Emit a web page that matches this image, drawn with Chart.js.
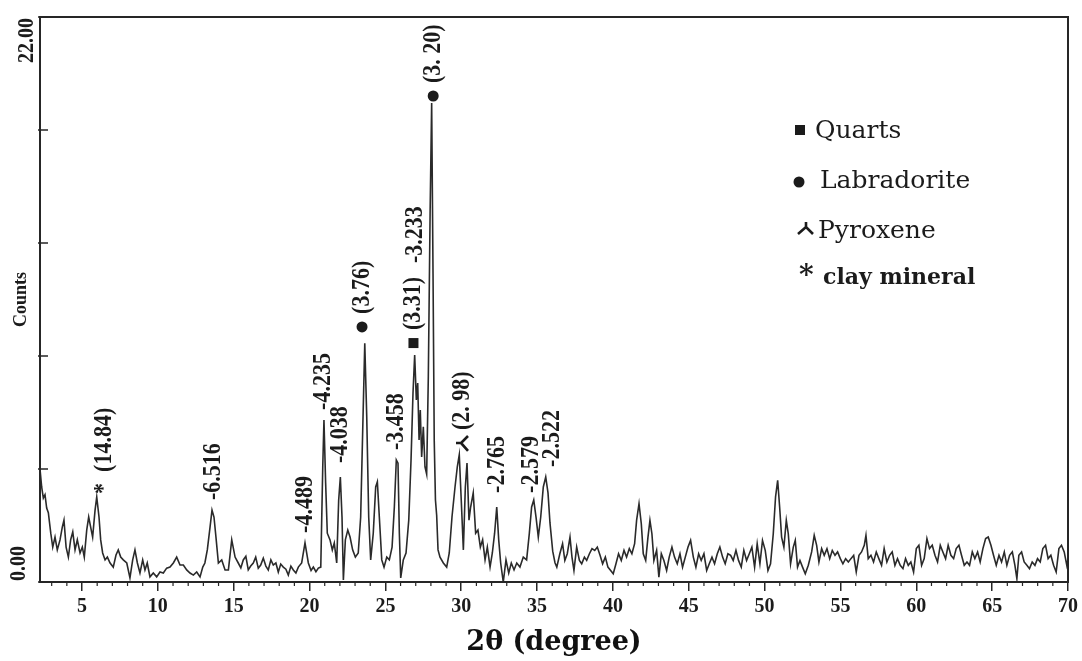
<!DOCTYPE html>
<html>
<head>
<meta charset="utf-8">
<title>XRD pattern</title>
<script src="https://cdn.jsdelivr.net/npm/chart.js@4.4.1/dist/chart.umd.min.js"></script>
<style>
  html, body { margin: 0; padding: 0; background: #fff; }
  #wrap { width: 1082px; height: 661px; position: relative; }
</style>
</head>
<body>
<div id="wrap"><canvas id="xrdChart"></canvas></div>
<script>
// --- data: 2θ (degree) and counts ---
const twoTheta = [
  2.23, 2.34, 2.45, 2.56, 2.67, 2.78, 2.94, 3.07, 3.22, 3.37,
  3.55, 3.70, 3.81, 3.95, 4.10, 4.25, 4.39, 4.54, 4.69, 4.87,
  5.02, 5.15, 5.31, 5.44, 5.57, 5.70, 5.86, 5.97, 6.12, 6.23,
  6.36, 6.52, 6.67, 6.85, 7.06, 7.24, 7.39, 7.55, 7.72, 7.95,
  8.16, 8.34, 8.49, 8.65, 8.82, 9.00, 9.15, 9.30, 9.48, 9.70,
  9.92, 10.14, 10.36, 10.58, 10.80, 11.02, 11.24, 11.46, 11.68, 11.90,
  12.12, 12.34, 12.56, 12.78, 12.96, 13.10, 13.26, 13.44, 13.57, 13.70,
  13.83, 13.99, 14.21, 14.43, 14.65, 14.87, 15.09, 15.30, 15.47, 15.63,
  15.80, 15.96, 16.12, 16.29, 16.45, 16.62, 16.78, 16.95, 17.12, 17.28,
  17.45, 17.61, 17.78, 17.94, 18.10, 18.27, 18.44, 18.60, 18.77, 18.93,
  19.10, 19.26, 19.48, 19.70, 19.92, 20.10, 20.25, 20.42, 20.58, 20.74,
  20.87, 20.95, 21.06, 21.17, 21.35, 21.50, 21.63, 21.79, 21.92, 22.03,
  22.14, 22.23, 22.36, 22.52, 22.67, 22.84, 23.02, 23.21, 23.37, 23.50,
  23.64, 23.77, 23.90, 24.03, 24.20, 24.36, 24.47, 24.60, 24.76, 24.91,
  25.09, 25.26, 25.44, 25.59, 25.72, 25.83, 25.92, 26.01, 26.18, 26.36,
  26.54, 26.69, 26.82, 26.93, 27.04, 27.13, 27.22, 27.30, 27.39, 27.50,
  27.61, 27.72, 27.83, 27.95, 28.05, 28.14, 28.22, 28.30, 28.38, 28.47,
  28.60, 28.82, 29.04, 29.21, 29.39, 29.59, 29.74, 29.87, 30.00, 30.14,
  30.27, 30.38, 30.51, 30.62, 30.79, 30.95, 31.10, 31.26, 31.41, 31.57,
  31.72, 31.90, 32.05, 32.20, 32.34, 32.47, 32.60, 32.77, 32.95, 33.13,
  33.30, 33.48, 33.66, 33.87, 34.09, 34.31, 34.49, 34.64, 34.78, 34.93,
  35.08, 35.24, 35.41, 35.57, 35.72, 35.85, 36.03, 36.18, 36.30, 36.50,
  36.68, 36.83, 36.99, 37.17, 37.30, 37.43, 37.61, 37.79, 37.94, 38.12,
  38.27, 38.45, 38.62, 38.80, 38.97, 39.15, 39.32, 39.50, 39.67, 39.85,
  40.02, 40.20, 40.37, 40.55, 40.73, 40.90, 41.08, 41.25, 41.43, 41.56,
  41.72, 41.87, 42.00, 42.16, 42.31, 42.44, 42.57, 42.70, 42.88, 43.03,
  43.19, 43.36, 43.54, 43.71, 43.89, 44.06, 44.24, 44.42, 44.59, 44.77,
  44.95, 45.12, 45.30, 45.47, 45.65, 45.82, 46.00, 46.18, 46.35, 46.53,
  46.70, 46.88, 47.05, 47.23, 47.40, 47.58, 47.76, 47.93, 48.11, 48.28,
  48.46, 48.63, 48.81, 48.99, 49.16, 49.34, 49.51, 49.69, 49.86, 50.04,
  50.22, 50.39, 50.57, 50.72, 50.86, 50.99, 51.12, 51.27, 51.43, 51.56,
  51.71, 51.89, 52.02, 52.17, 52.33, 52.50, 52.68, 52.88, 53.10, 53.27,
  53.43, 53.58, 53.76, 53.93, 54.11, 54.29, 54.46, 54.64, 54.81, 54.99,
  55.16, 55.34, 55.52, 55.69, 55.87, 56.04, 56.22, 56.39, 56.57, 56.68,
  56.83, 57.01, 57.18, 57.36, 57.53, 57.71, 57.88, 58.06, 58.24, 58.41,
  58.59, 58.76, 58.94, 59.12, 59.29, 59.47, 59.64, 59.82, 60.00, 60.17,
  60.35, 60.52, 60.70, 60.87, 61.05, 61.23, 61.40, 61.58, 61.75, 61.93,
  62.10, 62.28, 62.46, 62.63, 62.81, 62.98, 63.16, 63.34, 63.51, 63.69,
  63.86, 64.04, 64.21, 64.39, 64.57, 64.74, 64.92, 65.09, 65.27, 65.45,
  65.62, 65.80, 65.97, 66.15, 66.33, 66.50, 66.63, 66.76, 66.94, 67.11,
  67.29, 67.46, 67.64, 67.82, 67.99, 68.17, 68.34, 68.52, 68.69, 68.87,
  69.05, 69.22, 69.40, 69.57, 69.75, 69.92, 70.00
];

const counts = [
  4.40, 3.70, 3.27, 3.40, 2.88, 2.70, 1.90, 1.36, 1.75, 1.25,
  1.64, 2.14, 2.41, 1.36, 0.97, 1.64, 1.95, 1.25, 1.64, 1.13,
  1.36, 0.97, 2.02, 2.53, 2.14, 1.75, 2.80, 3.31, 2.53, 1.64,
  1.13, 0.86, 0.97, 0.74, 0.58, 1.05, 1.25, 0.97, 0.86, 0.74,
  0.16, 0.86, 1.25, 0.74, 0.35, 0.86, 0.47, 0.74, 0.20, 0.35,
  0.20, 0.39, 0.35, 0.54, 0.58, 0.74, 0.97, 0.66, 0.66, 0.47,
  0.35, 0.27, 0.39, 0.20, 0.58, 0.74, 1.25, 2.14, 2.80, 2.53,
  1.75, 0.74, 0.86, 0.47, 0.47, 1.64, 0.97, 0.74, 0.55, 0.86,
  1.00, 0.47, 0.62, 0.74, 0.97, 0.54, 0.66, 0.93, 0.62, 0.47,
  0.86, 0.66, 0.74, 0.39, 0.70, 0.58, 0.50, 0.27, 0.62, 0.47,
  0.35, 0.58, 0.74, 1.52, 0.74, 0.45, 0.58, 0.40, 0.54, 0.58,
  4.48, 6.31, 3.86, 1.90, 1.64, 1.25, 1.52, 0.74, 3.19, 4.09,
  2.53, 0.08, 1.64, 2.02, 1.75, 1.25, 0.97, 1.13, 2.53, 5.80,
  9.30, 6.43, 2.53, 0.86, 1.90, 3.70, 3.90, 2.53, 0.86, 0.58,
  0.97, 0.86, 1.36, 2.92, 4.75, 4.63, 1.90, 0.16, 0.86, 1.13,
  2.41, 4.75, 7.36, 8.84, 7.09, 7.75, 5.53, 6.70, 4.87, 6.04,
  4.48, 4.20, 8.00, 14.50, 18.65, 12.00, 5.50, 3.19, 2.60, 1.25,
  0.97, 0.74, 0.58, 1.13, 2.53, 3.70, 4.48, 4.95, 3.19, 1.25,
  3.70, 4.63, 2.41, 2.92, 3.47, 1.90, 2.02, 1.36, 1.64, 0.86,
  1.36, 0.58, 1.13, 1.90, 2.92, 1.64, 0.74, 0.00, 0.86, 0.35,
  0.74, 0.47, 0.74, 0.58, 0.97, 0.86, 1.90, 2.92, 3.19, 2.53,
  1.75, 2.53, 3.70, 4.09, 3.47, 2.30, 1.20, 0.75, 0.58, 1.10,
  1.49, 0.84, 1.10, 1.75, 0.97, 0.45, 1.36, 0.84, 0.71, 0.97,
  0.84, 1.10, 1.30, 1.23, 1.36, 1.04, 0.71, 0.97, 0.58, 0.45,
  0.32, 0.71, 1.10, 0.84, 1.23, 0.97, 1.30, 1.10, 1.49, 2.40,
  3.05, 2.27, 1.10, 0.84, 1.75, 2.40, 1.88, 0.84, 1.23, 0.19,
  1.10, 0.84, 0.45, 0.97, 1.36, 0.97, 0.71, 1.10, 0.58, 0.97,
  1.36, 1.62, 0.97, 0.58, 1.10, 0.84, 1.10, 0.45, 0.71, 0.97,
  0.71, 1.10, 1.36, 0.97, 0.71, 1.10, 1.04, 0.84, 1.23, 0.84,
  0.58, 1.23, 0.84, 1.10, 1.36, 0.58, 1.49, 0.71, 1.62, 1.23,
  0.45, 0.71, 1.88, 3.31, 3.96, 2.92, 1.75, 1.36, 2.40, 1.88,
  0.71, 1.36, 1.62, 0.58, 0.84, 0.58, 0.32, 0.65, 1.17, 1.82,
  1.43, 0.78, 1.30, 1.04, 1.30, 0.91, 1.23, 1.04, 1.17, 0.91,
  0.71, 0.91, 0.78, 0.91, 1.04, 0.39, 1.04, 1.17, 1.43, 1.82,
  0.91, 1.04, 0.78, 1.17, 0.91, 0.65, 1.30, 0.78, 1.04, 1.17,
  0.65, 0.91, 0.65, 0.52, 0.91, 0.65, 0.78, 0.39, 1.30, 1.43,
  0.65, 0.91, 1.69, 1.30, 1.43, 1.04, 0.78, 1.43, 1.17, 0.91,
  1.43, 1.04, 0.91, 1.30, 1.43, 1.04, 0.65, 0.78, 0.65, 1.17,
  0.91, 1.17, 0.78, 1.30, 1.69, 1.75, 1.43, 1.04, 0.65, 1.04,
  0.78, 1.17, 0.65, 1.04, 1.17, 0.65, 0.13, 1.04, 1.17, 0.78,
  0.65, 0.52, 0.78, 0.65, 0.91, 0.78, 1.30, 1.43, 0.91, 1.04,
  0.65, 0.39, 1.30, 1.43, 1.17, 0.65, 0.90
];

// axis ticks
const xTickValues = [5, 10, 15, 20, 25, 30, 35, 40, 45, 50, 55, 60, 65, 70];
const yTickValues = [0, 4.4, 8.8, 13.2, 17.6, 22];
const yTickLabels = ['0.00', '', '', '', '', '22.00'];

// peak annotations (d-spacing in Å), placed at 2θ / counts where the text starts
const peakTheta  = [6.45, 13.67, 19.70, 20.89, 22.05, 23.46, 25.70, 26.85, 27.00, 28.15, 30.05, 32.36, 34.60, 36.00];
const peakBase   = [3.43, 3.19, 1.91, 6.70, 4.63, 10.44, 5.14, 9.81, 12.42, 19.43, 5.92, 3.47, 3.47, 4.48];
const peakText   = ['*  (14.84)', '-6.516', '-4.489', '-4.235', '-4.038', '(3.76)', '-3.458',
                    '(3.31)', '-3.233', '(3. 20)', '(2. 98)', '-2.765', '-2.579', '-2.522'];
const peakMarker = ['', '', '', '', '', 'circle', '', 'square', '', 'circle', 'pyroxene', '', '', ''];

// mineral key
const phaseNames   = ['Quarts', 'Labradorite', 'Pyroxene', 'clay mineral'];
const phaseMarkers = ['square', 'circle', 'pyroxene', 'star'];

const INK = '#1b1b1b';

function drawMarker(ctx, type, cx, cy, turned) {
    ctx.save();
    ctx.translate(cx, cy);
    if (turned) ctx.rotate(-Math.PI / 2);
    ctx.fillStyle = INK;
    ctx.strokeStyle = INK;
    if (type === 'square') {
        ctx.fillRect(-5, -5, 10, 10);
    } else if (type === 'circle') {
        ctx.beginPath();
        ctx.arc(0, 0, 5.5, 0, Math.PI * 2);
        ctx.fill();
    } else if (type === 'pyroxene') {
        ctx.lineWidth = 2.6;
        ctx.beginPath();
        ctx.moveTo(0, -6); ctx.lineTo(0, 0);
        ctx.moveTo(-8, 6); ctx.lineTo(0, -1); ctx.lineTo(7, 6);
        ctx.stroke();
    }
    ctx.restore();
}

// frame, minor ticks, rotated tick labels, peak labels and key
const xrdDecor = {
    id: 'xrdDecor',
    afterDraw(chart) {
        const { ctx, chartArea: a, scales: { x, y } } = chart;
        ctx.save();

        // box round the plot
        ctx.strokeStyle = '#262626';
        ctx.lineWidth = 2;
        ctx.strokeRect(a.left, a.top, a.right - a.left, a.bottom - a.top);

        // minor ticks every degree
        ctx.lineWidth = 1.2;
        ctx.beginPath();
        for (let v = 3; v < 70; v++) {
            if (v % 5 === 0) continue;
            const px = x.getPixelForValue(v);
            ctx.moveTo(px, a.bottom);
            ctx.lineTo(px, a.bottom + 4);
        }
        ctx.stroke();

        // y ticks point into the plot
        ctx.lineWidth = 1.5;
        ctx.beginPath();
        yTickValues.forEach(v => {
            const py = y.getPixelForValue(v);
            ctx.moveTo(a.left - 2, py);
            ctx.lineTo(a.left + 8, py);
        });
        ctx.stroke();

        // y tick labels, rotated like the original
        ctx.fillStyle = INK;
        ctx.font = 'bold 20px "Liberation Serif"';
        ctx.textBaseline = 'middle';
        yTickValues.forEach((v, i) => {
            const txt = yTickLabels[i];
            if (!txt) return;
            const top = i === yTickValues.length - 1;
            ctx.save();
            ctx.translate(a.left - (top ? 13 : 21), y.getPixelForValue(v) + (top ? 1 : -1));
            ctx.scale(1.15, 1);
            ctx.rotate(-Math.PI / 2);
            ctx.textAlign = top ? 'right' : 'left';
            ctx.fillText(txt, 0, 0);
            ctx.restore();
        });

        // peak labels
        ctx.font = 'bold 22px "Liberation Serif"';
        peakText.forEach((txt, i) => {
            const px = x.getPixelForValue(peakTheta[i]);
            const py = y.getPixelForValue(peakBase[i]);
            ctx.save();
            ctx.translate(px, py);
            ctx.scale(1.15, 1);
            ctx.rotate(-Math.PI / 2);
            ctx.textAlign = 'left';
            ctx.textBaseline = 'middle';
            ctx.fillText(txt, 0, 0);
            ctx.restore();
            if (peakMarker[i]) drawMarker(ctx, peakMarker[i], px, py + 13, true);
        });

        // key
        const rowsY = [138, 188, 238, 284];
        const textX = [815, 820, 818, 823];
        const markX = [800, 799, 806, 0];
        const markY = [130, 182, 228, 0];
        ctx.textAlign = 'left';
        ctx.textBaseline = 'alphabetic';
        phaseNames.forEach((name, i) => {
            if (phaseMarkers[i] === 'star') {
                ctx.font = 'bold 28px "DejaVu Serif"';
                ctx.fillText('*', 799, rowsY[i]);
                ctx.font = 'bold 22px "DejaVu Serif"';
            } else {
                drawMarker(ctx, phaseMarkers[i], markX[i], markY[i], false);
                ctx.font = '25px "DejaVu Serif"';
            }
            ctx.fillStyle = INK;
            ctx.fillText(name, textX[i], rowsY[i]);
        });

        ctx.restore();
    }
};

const ctx = document.getElementById('xrdChart').getContext('2d');

const xrdChart = new Chart(ctx, {
    type: 'line',
    data: {
        datasets: [{
            label: 'Counts',
            data: twoTheta.map((t, i) => ({ x: t, y: counts[i] })),
            borderColor: '#2a2a2a',
            borderWidth: 1.6,
            pointRadius: 0,
            tension: 0,
            fill: false
        }]
    },
    options: {
        responsive: true,
        maintainAspectRatio: false,
        animation: false,
        layout: { padding: { top: 17, right: 1, bottom: 0, left: 0 } },
        plugins: {
            legend: { display: false },
            tooltip: { enabled: false }
        },
        scales: {
            x: {
                type: 'linear',
                min: 2.23,
                max: 70,
                afterBuildTicks: scale => { scale.ticks = xTickValues.map(v => ({ value: v })); },
                afterFit: scale => { scale.height = 79; },
                grid: {
                    drawOnChartArea: false,
                    drawTicks: true,
                    tickLength: 9,
                    color: '#262626',
                    lineWidth: 1.5
                },
                border: { display: false },
                ticks: {
                    autoSkip: false,
                    maxRotation: 0,
                    padding: 4,
                    color: INK,
                    font: { family: 'Liberation Serif', size: 20, weight: 'bold' }
                },
                title: {
                    display: true,
                    text: '2θ (degree)',
                    color: '#111',
                    font: { family: 'DejaVu Serif', size: 27, weight: 'bold' },
                    padding: { top: 0, bottom: 2 }
                }
            },
            y: {
                min: 0,
                max: 22,
                afterFit: scale => { scale.width = 40; },
                grid: { display: false },
                border: { display: false },
                ticks: { display: false },
                title: {
                    display: true,
                    text: 'Counts',
                    color: INK,
                    font: { family: 'Liberation Serif', size: 18, weight: 'bold' },
                    padding: { top: 11, bottom: 0 }
                }
            }
        }
    },
    plugins: [xrdDecor]
});
</script>
</body>
</html>
